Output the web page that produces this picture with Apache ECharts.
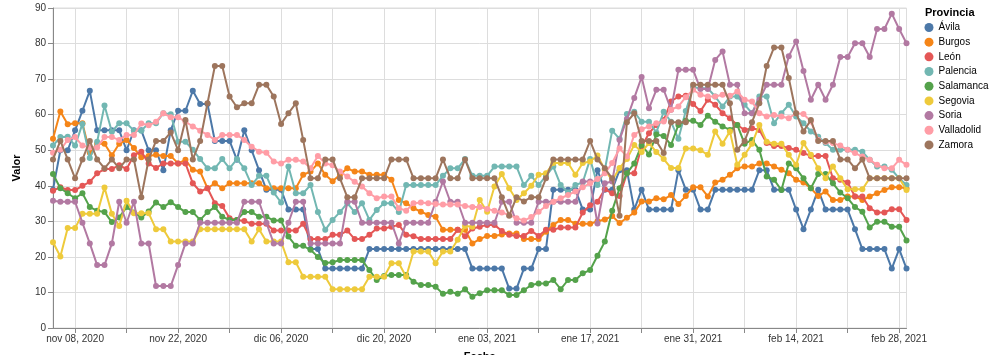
<!DOCTYPE html>
<html><head><meta charset="utf-8">
<script src="https://cdn.jsdelivr.net/npm/echarts@6/dist/echarts.min.js"></script>
<style>html,body{margin:0;padding:0;background:#fff;}#c{width:990px;height:355px;}</style>
</head><body><div id="c"></div>
<script>
// Daily categories: 2020-11-05 .. 2021-03-01
const firstDay = '2020-11-05';
const dayCount = 117;
const monthNames = ['ene','feb','mar','abr','may','jun','jul','ago','sep','oct','nov','dic'];
const tickLabels = ['nov 08, 2020','nov 22, 2020','dic 06, 2020','dic 20, 2020','ene 03, 2021','ene 17, 2021','ene 31, 2021','feb 14, 2021','feb 28, 2021'];
const provincias = ['Ávila','Burgos','León','Palencia','Salamanca','Segovia','Soria','Valladolid','Zamora'];
const colores = ['#4c78a8','#f58518','#e45756','#72b7b2','#54a24b','#eeca3b','#b279a2','#ff9da6','#9d755d'];

const avila = [38.9,50,50,55.6,61.1,66.7,55.6,55.6,55.6,55.6,
50,55.6,55.6,50,50,44.4,55.6,61.1,61.1,66.7,
63,63,52.6,52.6,52.6,47.3,55.6,50,44.4,38.9,
38.9,38.9,33.3,33.3,33.3,22.2,22.2,16.7,16.7,16.7,
16.7,16.7,16.7,22.2,22.2,22.2,22.2,22.2,22.2,22.2,
22.2,22.2,22.2,22.2,22.2,22.2,22.2,16.7,16.7,16.7,
16.7,16.7,11.1,11.1,16.7,16.7,22.2,22.2,38.9,38.9,
38.9,38.9,33.3,33.3,44.4,38.9,38.9,44.4,44.4,33.3,
38.9,33.3,33.3,33.3,33.3,44.4,38.9,38.9,33.3,33.3,
38.9,38.9,38.9,38.9,38.9,38.9,44.4,44.4,38.9,38.9,
38.9,33.3,27.8,33.3,38.9,33.3,33.3,33.3,33.3,27.8,
22.2,22.2,22.2,22.2,16.7,22.2,16.7];
const burgos = [53.2,60.9,57.3,57.6,57.6,49.3,51.8,51.8,48.6,51.8,
52.9,50.6,48,48.4,48.7,48.4,48.4,46.3,47.3,44.5,
44,39.3,40.7,39.3,40.7,40.7,40.7,40.7,40.7,39.3,
39.3,39.3,39.3,39.3,43.1,44,46.3,43.1,41.3,43.1,
44.9,44,44,43.1,43.1,43.1,41.7,36,35.1,33.7,
32.7,31.8,31.3,27.6,27.6,27.6,27.6,23.8,25,25.9,
25.9,26.3,26.6,26.6,25,25,25,27.1,29,30.4,
30.4,29.3,29.3,29.3,30,30.5,31.5,29.5,31,32.5,
35.6,35.6,36.5,36.2,37.4,34.9,37.1,39.6,39.6,37,
40.9,41.7,43.1,44.9,45.4,45.4,46.3,46.3,45.4,44.5,
43.5,41.7,40.9,39.3,37.1,38.4,36,36,37,37,
36,37,37.9,38.8,39.6,39.6,39.3];
const leon = [38.6,39.6,38.8,38.8,40,41.1,43.5,44.7,44.7,45.8,
44.7,48.6,49.6,46.3,45,46.3,46.3,46.3,46.3,40.7,
38.4,39.3,35.1,34.3,30.9,30.4,30.1,29.3,29.3,29.3,
27.4,27.4,27.4,27.4,29.3,25,25,25,26.2,26.2,
27.4,25,25,26.2,28,28,28.5,29,26.2,25.8,
25,25,25,25,25,27.6,25.8,28,28.5,29,
29,27.3,26.2,25.9,25.9,27.3,25.9,27.6,27.6,28.3,
28.3,28.3,32.5,34.5,35.5,39,37.9,37.1,43.5,43.5,
51,54.8,57.1,58.5,63.7,65.1,65.3,63,61,64.2,
62.8,60.4,59,57.1,55.7,56.2,55.7,52,51.2,51.2,
50.6,50.1,49.2,48.4,48.4,48.4,42.1,41.7,40.9,37,
37,33.7,32.5,32.5,33.4,33.4,30.4];
const palencia = [51.3,53.7,53.8,51.3,57.4,47.8,52.4,62.6,55.2,57.6,
57.6,55.5,55.5,57.6,57.6,60.4,60.1,52.4,52.4,50.1,
47.5,44.9,44.9,47.5,44.9,47.5,44.9,40.2,42.8,42.8,
38.1,35.3,45.4,37.9,37.9,40.2,32.6,27.6,30.4,32.6,
35.1,32.6,35.1,30.4,33.2,35.1,35.1,32.6,40.2,40.2,
40.2,40.2,40.2,42.8,44.9,44.9,47.5,42.8,42.8,42.8,
45.4,45.4,45.4,45.4,40.2,42.8,40.2,42.8,45.4,40.2,
38.1,40.2,41,47.5,40.2,44.5,55.5,53.2,60.2,60.8,
58,58,55,60.8,58,53.2,61,67.7,67.4,67.4,
65.1,62.3,65.1,65.1,62.8,60.4,65.1,65.1,57.6,60.4,
62.8,59.5,57.6,55.3,53.8,52,50.1,50.1,50.1,50.1,
49.6,47.3,45.4,45.4,44.5,42.1,40.2];
const salamanca = [43.3,39.3,37.9,36.5,37.9,34,33,32.6,29.8,31.1,
34,32.5,31.1,32.8,35.3,34,35.4,34,32.6,32.6,
30.4,32.6,34,31.3,30.4,30.4,32.6,32.6,31.3,31.3,
30.2,30.2,25.7,23.1,23.1,22,20,18.3,18.5,19.1,
19.1,19.1,19.1,16.3,13.5,14.6,14.9,14.9,14.9,13,
12.1,12.1,11.6,9.6,10.2,9.6,10.9,8.8,9.8,10.6,
10.6,10.6,9.3,9.3,10.6,12.1,12.5,12.5,13.5,10.9,
13.5,13.5,15.4,16.3,20.3,24.3,33,39.3,43.5,46.3,
51.5,48.8,54.4,54,51.5,57.1,58.3,58.3,57.1,59.7,
58,56.7,55.7,57.1,51.8,52.9,50.1,42.6,41.7,38.8,
46.3,44.9,42.1,39.3,43.3,43.3,40.7,38.1,36.5,34,
32.7,28.3,29.9,29.9,28.5,28.5,24.6];
const segovia = [24.1,20.1,28.1,28.1,32.1,32.1,32.1,39.5,32.1,28.7,
35.8,32.3,32.3,32.3,27.8,27.8,24.3,24.3,24.3,24.3,
27.8,27.8,27.8,27.8,27.8,27.8,27.8,24.3,27.8,24.3,
24.3,24.3,18.5,18.5,14.4,14.4,14.4,14.4,10.9,10.9,
10.9,10.9,10.9,14.4,14.4,14.4,18.2,18.2,14.4,21.5,
21.5,21.5,18.2,21.5,21.5,24.8,28.7,28.5,36,32.7,
39.8,43.3,39.3,36,37.9,40,43.1,43.5,46.4,46.4,
46.4,43.1,46.4,46.8,48.5,44.5,41.5,45,47.5,51.5,
49.5,52,49.5,47.5,45,45,50.5,50.5,50,48.7,
55.3,51.8,55.3,45.9,48.7,51.8,57.1,52.4,51.8,51.8,
48.7,45.9,52,48.7,44.9,42.1,45.4,42.1,39,39,
39,42.1,42.1,42.1,42.1,42.1,38.8];
const soria = [35.8,35.5,35.5,35.5,29.6,23.8,17.7,17.7,23.8,35.5,
29.6,35.5,23.8,23.8,11.8,11.8,11.8,17.7,23.8,23.8,
29.6,29.6,29.6,29.6,29.6,29.6,35.5,35.5,35.5,29.6,
23.8,23.8,29.6,35.5,35.5,23.8,23.8,23.8,23.8,23.8,
35.5,35.5,29.6,29.6,29.6,29.6,29.6,23.8,29.6,29.6,
29.6,29.6,35.5,41.2,35.5,35.5,29.6,29.6,29.6,29.6,
29.6,35.5,35.5,29.6,29.6,29.6,35.5,35.5,35.5,35.5,
35.5,35.5,41.2,41.2,29.4,40.7,41.2,52.9,58.8,64.7,
70.6,61.8,67,67,61.4,72.6,72.6,72.6,67.2,67.2,
75.4,77.8,68.4,68.4,60.4,60.4,64.2,68.4,68.4,68.4,
76.4,80.6,72.3,64.2,68.4,64.2,68.4,76.2,76.2,80.1,
80.1,76.2,84.1,84.1,88.4,84.1,80.1];
const valladolid = [49.3,50.1,52.9,53.7,51.3,50.8,50.8,53.7,53.7,52.9,
54.3,54.3,57.5,57,58,60.4,59.3,59.3,58,56.7,
55.5,54.3,52.9,54.3,54.3,54.3,52.9,51,49.6,49.3,
46.8,46.3,47.3,47.3,46.8,44.9,48.4,46.3,45.8,44,
42.6,41.1,39.8,37.9,36.5,37,37,33.7,33,35.1,
35.3,35.1,34.9,34.7,34.7,34.7,34.3,34,34,33.5,
33,32.5,31.8,30.9,30.2,31.2,32.7,34.3,35.5,36.5,
37.4,38.4,39.6,40.7,41.9,43.5,46.4,50.5,48.2,54.3,
55.9,56.7,57.6,58.1,61.4,62.3,64.9,67,65.6,65.1,
65.1,65.6,65.3,66.5,64.2,63.7,60.4,59.5,59.9,59.5,
59,60.4,60.2,58.1,52.9,52.4,52,51.3,50.1,49.2,
48.2,47.3,45.9,44.9,44.9,47.3,45.9];
const zamora = [47.4,52.6,47.4,42.1,47.4,52.6,47.4,44.9,47.4,44.9,
47.4,47.4,36.8,47.4,52.6,52.6,55,50,58.5,47.4,
52.6,63.2,73.7,73.7,65.1,62.1,63.2,63.2,68.4,68.4,
65.1,57.4,60.4,63.2,52.9,42.1,42.1,47.4,47.4,42.1,
36.8,36.8,42.1,42.1,42.1,42.1,47.4,47.4,47.4,42.1,
42.1,42.1,42.1,47.4,42.1,42.1,47.4,42.1,42.1,42.1,
42.1,36.8,31.6,36.8,35.6,36.8,36.8,42.1,47.4,47.4,
47.4,47.4,47.4,52.6,47.4,44.9,42.1,31.6,57.9,60.4,
52.6,52.6,52.6,49.2,57.9,57.9,57.9,68.4,68.4,68.4,
68.4,68.4,63.2,50.1,52.6,57.9,63.2,73.7,78.9,78.9,
70.3,60.4,55.3,58.5,52.6,52.6,52.6,47.4,47.4,44.9,
47.4,42.1,42.1,42.1,42.1,42.1,42.1];

const valores = [avila,burgos,leon,palencia,salamanca,segovia,soria,valladolid,zamora];

const fechas = [];
const base = new Date(firstDay + 'T00:00:00Z');
for (let i = 0; i < dayCount; i++) {
  const d = new Date(base.getTime() + i * 86400000);
  fechas.push(d.toISOString().slice(0, 10));
}
function fmt(s) {
  const [y, m, d] = s.split('-');
  return monthNames[parseInt(m, 10) - 1] + ' ' + d + ', ' + y;
}
const firstTick = fechas.findIndex(f => fmt(f) === tickLabels[0]);
const labelEvery = (i) => i >= firstTick && (i - firstTick) % 14 === 0 && tickLabels.indexOf(fmt(fechas[i])) >= 0;
const weekly = (i) => i >= firstTick && (i - firstTick) % 7 === 0;

const FONT = 'Liberation Sans, Arial, Helvetica, sans-serif';
const chart = echarts.init(document.getElementById('c'), null, {renderer: 'canvas'});
chart.setOption({
  animation: false,
  backgroundColor: '#fff',
  textStyle: {fontFamily: FONT},
  grid: {left: 53, top: 8, width: 853.5, height: 320, show: true, borderColor: '#ddd', borderWidth: 1, containLabel: false, outerBoundsMode: 'none'},
  title: {text: 'Provincia', left: 925, top: 7, padding: 0, textStyle: {fontFamily: FONT, fontSize: 11, fontWeight: 'bold', color: '#000'}},
  legend: {
    orient: 'vertical', left: 924.5, top: 22.5, padding: 0, icon: 'circle', itemWidth: 9, itemHeight: 9, itemGap: 4.68,
    textStyle: {fontFamily: FONT, fontSize: 10, color: '#000'},
    selectedMode: false,
    data: provincias
  },
  xAxis: {
    type: 'category', data: fechas, boundaryGap: false,
    name: 'Fecha', nameLocation: 'middle', nameGap: 23,
    nameTextStyle: {fontFamily: FONT, fontSize: 11, fontWeight: 'bold', color: '#000'},
    axisLine: {show: true, lineStyle: {color: '#888', width: 1}},
    axisTick: {show: true, length: 5, interval: (i) => weekly(i), lineStyle: {color: '#888'}},
    axisLabel: {interval: (i) => labelEvery(i), formatter: (v) => fmt(v), fontFamily: FONT, fontSize: 10, color: '#333', margin: 6, hideOverlap: false},
    splitLine: {show: true, interval: (i) => weekly(i), lineStyle: {color: '#ddd', width: 1}}
  },
  yAxis: {
    type: 'value', min: 0, max: 90, interval: 10,
    name: 'Valor', nameLocation: 'middle', nameGap: 31,
    nameTextStyle: {fontFamily: FONT, fontSize: 11, fontWeight: 'bold', color: '#000'},
    axisLine: {show: true, lineStyle: {color: '#888', width: 1}},
    axisTick: {show: true, length: 5, lineStyle: {color: '#888'}},
    axisLabel: {fontFamily: FONT, fontSize: 10, color: '#333', margin: 7},
    splitLine: {show: true, lineStyle: {color: '#ddd', width: 1}}
  },
  series: provincias.map((p, k) => ({
    name: p, type: 'line', data: valores[k],
    color: colores[k],
    symbol: 'circle', symbolSize: 6, showSymbol: true, showAllSymbol: true,
    lineStyle: {width: 2, color: colores[k]},
    itemStyle: {color: colores[k]},
    emphasis: {disabled: true},
    z: 2 + k
  }))
});
</script>
</body></html>
